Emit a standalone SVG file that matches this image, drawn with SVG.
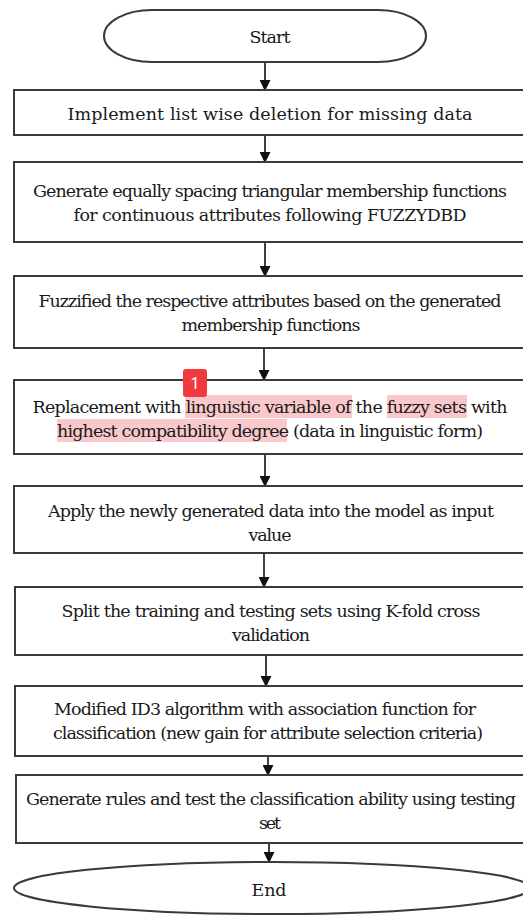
<svg xmlns="http://www.w3.org/2000/svg" width="523" height="915" viewBox="0 0 523 915">
<style>
.box{fill:#fff;stroke:#3a3a3a;stroke-width:2}
.t{font-size:17.5px;fill:#1a1a1a;text-anchor:middle}
.cn line{stroke:#111;stroke-width:1.6}
.hl{fill:#f7b6b8;opacity:0.75}
</style>
<defs>
<marker id="ah" viewBox="0 0 10 10" refX="9" refY="5" markerWidth="11" markerHeight="11" orient="auto" markerUnits="userSpaceOnUse">
<path d="M0,0 L10,5 L0,10 z" fill="#111"/>
</marker>
</defs>
<rect width="523" height="915" fill="#fff"/>
<g class="cn">
<line x1="265" y1="62" x2="265" y2="90" marker-end="url(#ah)"/>
<line x1="265" y1="135" x2="265" y2="162" marker-end="url(#ah)"/>
<line x1="265" y1="242" x2="265" y2="276" marker-end="url(#ah)"/>
<line x1="264" y1="348" x2="264" y2="380" marker-end="url(#ah)"/>
<line x1="265" y1="454" x2="265" y2="486" marker-end="url(#ah)"/>
<line x1="264" y1="553" x2="264" y2="587" marker-end="url(#ah)"/>
<line x1="266" y1="655" x2="266" y2="686" marker-end="url(#ah)"/>
<line x1="268" y1="756" x2="268" y2="775" marker-end="url(#ah)"/>
<line x1="269" y1="843" x2="269" y2="862" marker-end="url(#ah)"/>
</g>
<g font-family="DejaVu Serif, Liberation Serif, serif">
<g id="start">
<rect class="box" x="104" y="10" width="322" height="52" rx="48" ry="26"/>
<text class="t" x="270" y="43" textLength="41">Start</text>
</g>
<g id="n1">
<rect class="box" x="14" y="90" width="520" height="45"/>
<text class="t" x="270" y="120" textLength="405">Implement list wise deletion for missing data</text>
</g>
<g id="n2">
<rect class="box" x="14" y="162" width="520" height="80"/>
<text class="t" x="270" y="197" textLength="474">Generate equally spacing triangular membership functions</text>
<text class="t" x="270" y="221" textLength="393">for continuous attributes following FUZZYDBD</text>
</g>
<g id="n3">
<rect class="box" x="14" y="276" width="520" height="72"/>
<text class="t" x="270" y="307" textLength="463">Fuzzified the respective attributes based on the generated</text>
<text class="t" x="271" y="331" textLength="179">membership functions</text>
</g>
<g id="n4">
<rect class="box" x="14" y="380" width="520" height="74"/>
<rect class="hl" x="185" y="395" width="167" height="23"/>
<rect class="hl" x="387" y="395" width="80" height="23"/>
<rect class="hl" x="57" y="419" width="230" height="23"/>
<text class="t" x="270" y="413" textLength="475">Replacement with linguistic variable of the fuzzy sets with</text>
<text class="t" x="270" y="437" textLength="426">highest compatibility degree (data in linguistic form)</text>
<rect x="183" y="369" width="24" height="28" rx="3" fill="#f03a3e"/>
<text x="195" y="389" font-family="Roboto, Liberation Sans, sans-serif" font-size="16" fill="#fff" text-anchor="middle">1</text>
</g>
<g id="n5">
<rect class="box" x="14" y="486" width="520" height="67"/>
<text class="t" x="271" y="517" textLength="446">Apply the newly generated data into the model as input</text>
<text class="t" x="270" y="541" textLength="43">value</text>
</g>
<g id="n6">
<rect class="box" x="15" y="587" width="520" height="68"/>
<text class="t" x="271" y="617" textLength="419">Split the training and testing sets using K-fold cross</text>
<text class="t" x="271" y="641" textLength="78">validation</text>
</g>
<g id="n7">
<rect class="box" x="15" y="686" width="520" height="70"/>
<text class="t" x="265" y="715" textLength="422">Modified ID3 algorithm with association function for</text>
<text class="t" x="268" y="739" textLength="430">classification (new gain for attribute selection criteria)</text>
</g>
<g id="n8">
<rect class="box" x="16" y="775" width="520" height="68"/>
<text class="t" x="271" y="805" textLength="490">Generate rules and test the classification ability using testing</text>
<text class="t" x="270" y="829" textLength="22">set</text>
</g>
<g id="end">
<ellipse class="box" cx="272" cy="888" rx="258" ry="26"/>
<text class="t" x="269" y="896" textLength="35">End</text>
</g>
</g>
</svg>
